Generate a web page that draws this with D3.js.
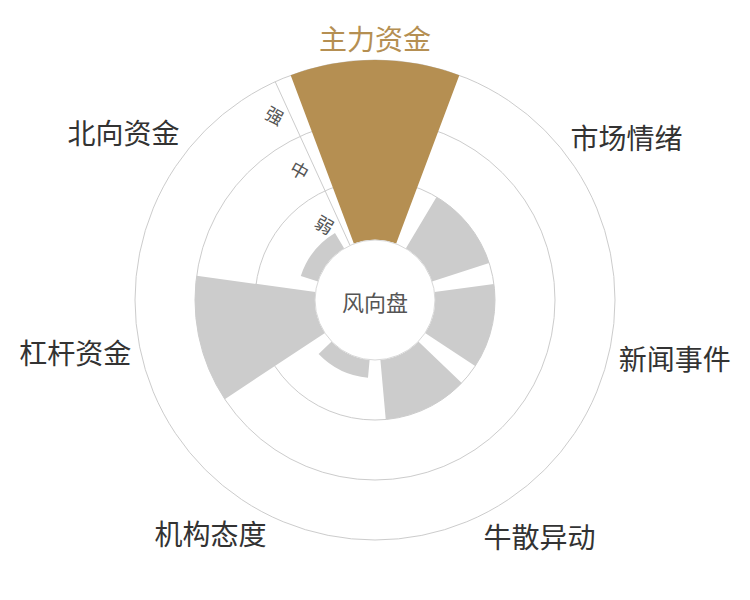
<!DOCTYPE html>
<html>
<head>
<meta charset="utf-8">
<script src="https://cdn.jsdelivr.net/npm/d3@7"></script>
<style>
	body { margin: 0; background: #fff; }
	text { font-family: "Noto Sans CJK SC", "Noto Sans", sans-serif; }
</style>
</head>
<body>
<div id="chartDiv"></div>
<script>
// categories, clockwise from the top
var categories = ["主力资金", "市场情绪", "新闻事件", "牛散异动", "机构态度", "杠杆资金", "北向资金"];
// strength of each category (0 = none, 1 = 弱, 2 = 中, 3 = 强)
var values = [3, 1, 1, 1, 0.3, 2, 0.3];
var levelLabels = ["弱", "中", "强"];
var levelTicks = [1, 2, 3];
var highlighted = "主力资金";
var centerTitle = "风向盘";

;(function() {

	var width = 750;
	var height = 600;
	var cx = 375;
	var cy = 300;
	var innerRadius = 60;
	var outerRadius = 240;

	var goldColor = "#b58f52";
	var barColor = "#cccccc";
	var gridColor = "#cccccc";

	var step = 2 * Math.PI / categories.length;

	var svg = d3.select("#chartDiv").append("svg")
		.attr("width", width)
		.attr("height", height);

	var g = svg.append("g")
		.attr("transform", "translate(" + cx + "," + cy + ")");

	// angle and radius scales
	var xScale = d3.scaleBand()
		.domain(categories)
		.range([-step / 2, 2 * Math.PI - step / 2])
		.paddingInner(0.2)
		.paddingOuter(0.1);

	var rScale = d3.scaleLinear()
		.domain([0, 3])
		.range([innerRadius, outerRadius]);

	// grid circles
	g.selectAll(".grid")
		.data(levelTicks)
		.enter().append("circle")
			.attr("class", "grid")
			.attr("r", function(d) { return rScale(d); })
			.attr("fill", "none")
			.attr("stroke", gridColor)
			.attr("stroke-width", 1);

	// bars
	var arc = d3.arc()
		.innerRadius(innerRadius)
		.outerRadius(function(d) { return rScale(d.value); })
		.startAngle(function(d) { return xScale(d.name); })
		.endAngle(function(d) { return xScale(d.name) + xScale.bandwidth(); });

	var data = categories.map(function(c, i) { return { name: c, value: values[i] }; });

	g.selectAll(".bar")
		.data(data)
		.enter().append("path")
			.attr("class", "bar")
			.attr("d", arc)
			.attr("fill", function(d) { return d.name === highlighted ? goldColor : barColor; });

	// radius axis line, a little inside the first sector boundary
	var axisAngle = -step / 2 + 0.02;
	var ux = Math.sin(axisAngle);
	var uy = -Math.cos(axisAngle);
	g.append("line")
		.attr("x1", ux * innerRadius)
		.attr("y1", uy * innerRadius)
		.attr("x2", ux * outerRadius)
		.attr("y2", uy * outerRadius)
		.attr("stroke", gridColor)
		.attr("stroke-width", 1);

	// level labels, placed mid-band beside the axis line
	var px = -Math.cos(axisAngle);
	var py = -Math.sin(axisAngle);
	g.selectAll(".level")
		.data(levelTicks)
		.enter().append("text")
			.attr("class", "level")
			.attr("transform", function(d) {
				var r = rScale(d - 0.5);
				var x = ux * r + px * 14;
				var y = uy * r + py * 14;
				return "translate(" + x + "," + y + ") rotate(" + (-axisAngle * 180 / Math.PI + 5) + ")";
			})
			.attr("text-anchor", "middle")
			.attr("dominant-baseline", "central")
			.style("font-size", "18px")
			.attr("fill", "#555")
			.text(function(d, i) { return levelLabels[i]; });

	// center hole
	g.append("circle")
		.attr("r", innerRadius)
		.attr("fill", "#fff")
		.attr("stroke", "#d8d8d8")
		.attr("stroke-width", 1);

	g.append("text")
		.attr("text-anchor", "middle")
		.attr("dominant-baseline", "central")
		.attr("y", 1)
		.style("font-size", "22px")
		.attr("fill", "#555")
		.text(centerTitle);

	// category labels
	var labelRadius = 250;
	function midAngle(d) { return xScale(d.name) + xScale.bandwidth() / 2; }

	g.selectAll(".cat")
		.data(data)
		.enter().append("text")
			.attr("class", "cat")
			.attr("x", function(d) {
				return Math.sin(midAngle(d)) * labelRadius;
			})
			.attr("y", function(d) {
				var a = midAngle(d);
				// labels on the left side sit a few pixels higher
				return -Math.cos(a) * (labelRadius + 12) + Math.min(0, Math.sin(a)) * 6;
			})
			.attr("text-anchor", function(d) {
				var s = Math.sin(midAngle(d));
				return s > 0.1 ? "start" : (s < -0.1 ? "end" : "middle");
			})
			.attr("dominant-baseline", "central")
			.style("font-size", "28px")
			.attr("fill", function(d) { return d.name === highlighted ? goldColor : "#333"; })
			.text(function(d) { return d.name; });

})();
</script>
</body>
</html>
